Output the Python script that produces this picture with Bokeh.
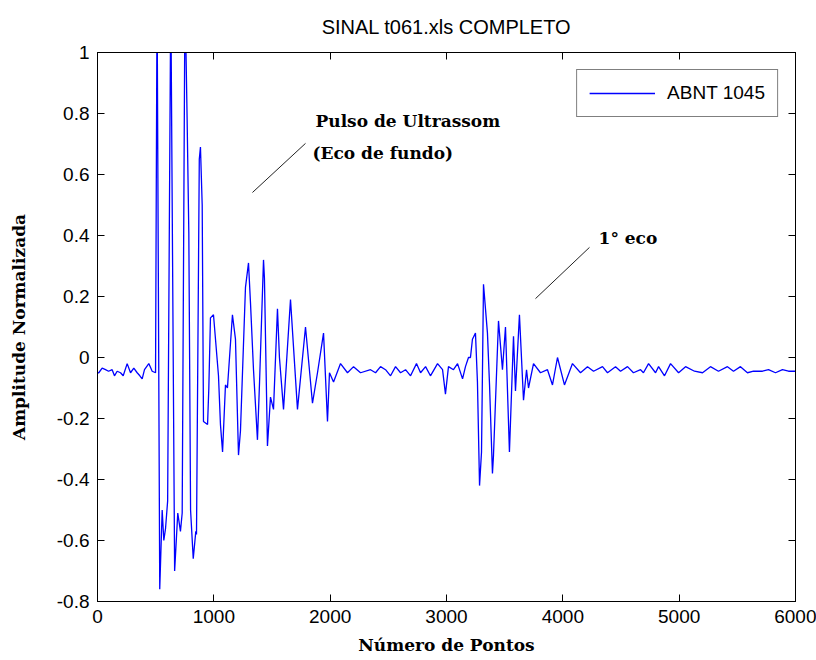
from bokeh.plotting import figure
from bokeh.models import Range1d, FixedTicker, LinearAxis, Label, Legend, LegendItem
from bokeh.embed import file_html
from bokeh.resources import INLINE

# ---------------- data ----------------
titulo = "SINAL t061.xls COMPLETO"
serie_nome = "ABNT 1045"

# noise before the ultrasonic pulse
ruido_ini_x = [0, 11, 40, 69, 95, 126, 146, 169, 198, 221, 255, 284, 312, 341, 364, 384, 404, 441, 470, 499]
ruido_ini_y = [-0.05, -0.05, -0.035, -0.04, -0.045, -0.04, -0.06, -0.045, -0.05, -0.06, -0.02, -0.05,
               -0.035, -0.05, -0.06, -0.07, -0.04, -0.02, -0.045, -0.05]

# ultrasonic pulse (back-wall echo)
pulso_x = [512, 535, 556, 570, 585, 603, 630, 663, 690, 713, 728, 752, 770, 785, 800, 823, 845, 851,
           875, 885, 900, 911, 946, 957, 971, 997, 1040, 1057, 1075, 1100, 1117, 1160, 1186, 1212, 1229,
           1272, 1298, 1315, 1341, 1375, 1393, 1427, 1435, 1461, 1487, 1513, 1547, 1564, 1599, 1659,
           1719, 1788, 1848, 1891, 1943, 1977, 1994, 2029, 2089, 2149, 2201, 2261, 2347]
pulso_y = [1.2, -0.76, -0.5, -0.6, -0.56, -0.47, 1.2, -0.70, -0.51, -0.57, -0.51, 1.2, 0.79, 0.41, -0.5,
           -0.66, -0.57, -0.58, 0.65, 0.69, 0.5, -0.21, -0.22, -0.1, 0.13, 0.14, -0.06, -0.22, -0.31,
           -0.09, -0.1, 0.14, 0.06, -0.32, -0.24, 0.23, 0.31, 0.18, -0.04, -0.27, -0.08, 0.32, 0.26,
           -0.29, -0.13, -0.17, 0.16, 0.0, -0.17, 0.19, -0.17, 0.1, -0.15, -0.05, 0.08, -0.21, -0.05,
           -0.08, -0.02, -0.05, -0.03, -0.05, -0.04]

# noise between pulse and first echo
ruido_meio_x = [2390, 2433, 2476, 2519, 2562, 2605, 2648, 2691, 2742, 2777, 2820, 2862, 2923, 2966, 2991,
                3017, 3060, 3095, 3138, 3163, 3189]
ruido_meio_y = [-0.05, -0.03, -0.04, -0.06, -0.03, -0.05, -0.04, -0.06, -0.02, -0.05, -0.03, -0.06,
                -0.02, -0.04, -0.12, -0.03, -0.04, -0.02, -0.07, -0.03, 0.0]

# first echo
eco_x = [3206, 3223, 3249, 3266, 3284, 3301, 3318, 3352, 3370, 3395, 3404, 3447, 3481, 3507, 3541, 3576,
         3593, 3627, 3662, 3688, 3705, 3748, 3808, 3868, 3911, 3954, 4014, 4083, 4152]
eco_y = [0.0, 0.06, 0.08, -0.08, -0.42, -0.31, 0.24, 0.08, -0.09, -0.38, -0.32, 0.12, -0.04, 0.1, -0.31,
         0.07, -0.11, 0.14, -0.14, -0.04, -0.1, -0.02, -0.05, -0.04, -0.09, 0.0, -0.09, -0.02, -0.05]

# noise after the echo
ruido_fim_x = [4212, 4264, 4341, 4384, 4453, 4496, 4556, 4607, 4668, 4693, 4737, 4797, 4823, 4874, 4926,
               4995, 5055, 5132, 5201, 5269, 5338, 5415, 5467, 5527, 5587, 5639, 5716, 5768, 5828, 5888,
               5940, 6000]
ruido_fim_y = [-0.03, -0.045, -0.03, -0.05, -0.03, -0.045, -0.03, -0.05, -0.04, -0.05, -0.02, -0.05,
               -0.03, -0.06, -0.02, -0.05, -0.03, -0.045, -0.05, -0.03, -0.045, -0.03, -0.045, -0.03,
               -0.05, -0.045, -0.045, -0.04, -0.05, -0.04, -0.045, -0.045]

x_ticks = [0, 1000, 2000, 3000, 4000, 5000, 6000]
y_ticks = [-0.8, -0.6, -0.4, -0.2, 0, 0.2, 0.4, 0.6, 0.8, 1]
y_tick_labels = ["-0.8", "-0.6", "-0.4", "-0.2", "0", "0.2", "0.4", "0.6", "0.8", "1"]

anot_pulso_l1 = "Pulso de Ultrassom"
anot_pulso_l2 = "(Eco de fundo)"
anot_eco = "1° eco"

# ---------------- figure ----------------
pontos = ruido_ini_x + pulso_x + ruido_meio_x + eco_x + ruido_fim_x
amplitude = ruido_ini_y + pulso_y + ruido_meio_y + eco_y + ruido_fim_y

SANS = "Liberation Sans"
SERIF = "DejaVu Serif"

p = figure(width=816, height=660, output_backend="svg", toolbar_location=None,
           x_range=Range1d(0, 6000), y_range=Range1d(-0.8, 1),
           min_border_left=97, min_border_right=21, min_border_top=52, min_border_bottom=59,
           background_fill_color="white", border_fill_color="white", title=titulo)
p.title.align = "center"
p.title.offset = -10
p.title.text_font = SANS
p.title.text_font_size = "20px"
p.title.text_font_style = "normal"
p.title.text_color = "black"
p.title.vertical_align = "top"
p.title.standoff = 26

p.xgrid.visible = False
p.ygrid.visible = False
p.outline_line_color = "black"
p.outline_line_width = 1

r = p.line(pontos, amplitude, line_color="#0000ff", line_width=1.3)

def style_axis(ax):
    ax.major_tick_in = 7
    ax.major_tick_out = 0
    ax.major_tick_line_width = 1
    ax.minor_tick_line_color = None
    ax.axis_line_color = "black"
    ax.major_tick_line_color = "black"
    ax.major_label_text_font = SANS
    ax.major_label_text_font_size = "19px"
    ax.major_label_text_color = "black"

p.xaxis.ticker = FixedTicker(ticks=x_ticks)
p.yaxis.ticker = FixedTicker(ticks=y_ticks)
p.yaxis.major_label_overrides = {t: s for t, s in zip(y_ticks, y_tick_labels)}
for ax in p.xaxis + p.yaxis:
    style_axis(ax)
    ax.major_label_standoff = 8
    ax.axis_label_text_font = SERIF
    ax.axis_label_text_font_style = "bold"
    ax.axis_label_text_font_size = "17px"
    ax.axis_label_text_color = "black"
p.xaxis.axis_label = "Número de Pontos"
p.xaxis.axis_label_standoff = 9
p.yaxis.axis_label = "Amplitude Normalizada"
p.yaxis.axis_label_standoff = 25

# mirrored tick marks on the right and top (minor ticks only, so no labels)
right = LinearAxis(ticker=FixedTicker(ticks=[], minor_ticks=y_ticks))
above = LinearAxis(ticker=FixedTicker(ticks=[], minor_ticks=x_ticks))
for ax in (right, above):
    ax.axis_line_color = "black"
    ax.major_tick_line_color = None
    ax.minor_tick_line_color = "black"
    ax.minor_tick_line_width = 1
    ax.minor_tick_in = 7
    ax.minor_tick_out = 0
    ax.major_label_standoff = 0
p.add_layout(right, "right")
p.add_layout(above, "above")

legend = Legend(items=[LegendItem(label=serie_nome, renderers=[r])], location="top_right",
                margin=17, padding=12, glyph_width=66, glyph_height=20, label_height=20,
                label_standoff=12, spacing=0, border_line_color="black", border_line_width=1,
                background_fill_color="white", background_fill_alpha=1,
                label_text_font=SANS, label_text_font_size="19px", label_text_color="black")
p.add_layout(legend)

for (tx, ty, txt) in [(1874, 0.774, anot_pulso_l1), (1848, 0.669, anot_pulso_l2), (4307, 0.393, anot_eco)]:
    p.add_layout(Label(x=tx, y=ty, text=txt, text_align="left", text_baseline="middle",
                       text_font=SERIF, text_font_style="bold", text_font_size="17px",
                       text_color="black"))

p.segment(x0=[1332, 3765], y0=[0.541, 0.193], x1=[1788, 4229], y1=[0.702, 0.361],
          line_color="#222222", line_width=1)

open("out.html", "w").write(file_html(p, INLINE))
